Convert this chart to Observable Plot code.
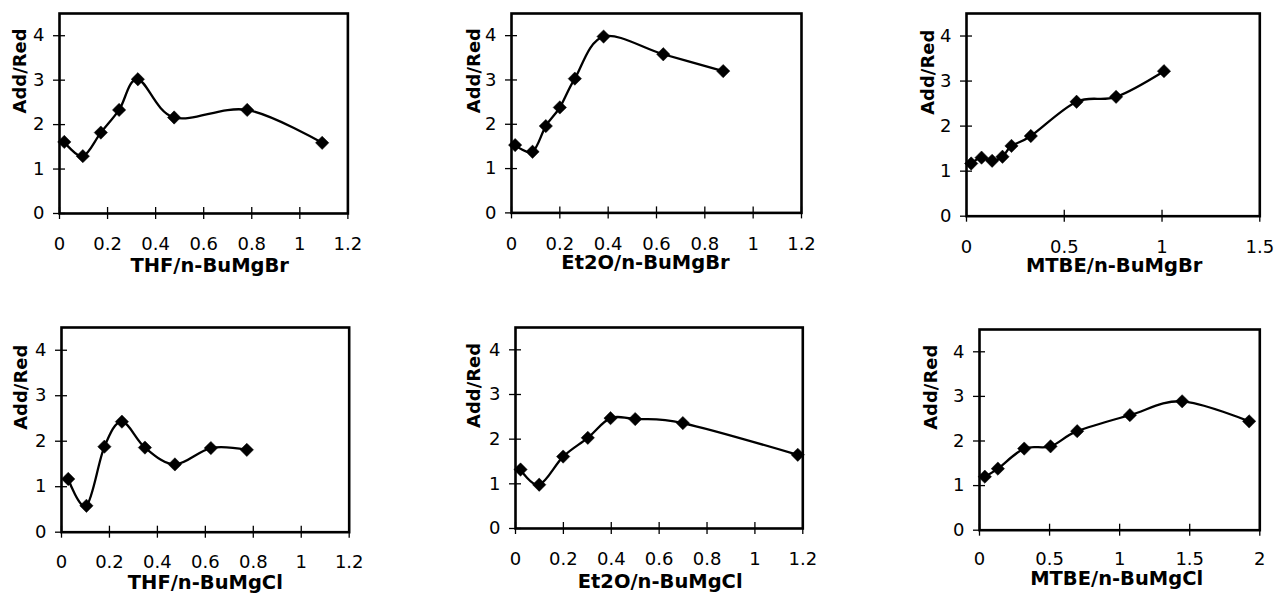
<!DOCTYPE html>
<html>
<head>
<meta charset="utf-8">
<script src="https://cdn.jsdelivr.net/npm/d3@7"></script>
<script src="https://cdn.jsdelivr.net/npm/@observablehq/plot@0.6"></script>
<style>
  html, body { margin: 0; padding: 0; background: #fff; overflow: hidden; }
  #root { position: relative; width: 1277px; height: 593px; background: #fff; }
  #root svg { position: absolute; overflow: visible; }
</style>
</head>
<body>
<div id="root"></div>
<script>
// ---- data ----
const yTicks = [0, 1, 2, 3, 4];
const xTicks12 = [0, 0.2, 0.4, 0.6, 0.8, 1, 1.2];
const xTicks15 = [0, 0.5, 1, 1.5];
const xTicks2 = [0, 0.5, 1, 1.5, 2];
const yLabel = "Add/Red";

const thfBrX = [0.02, 0.097, 0.172, 0.248, 0.326, 0.477, 0.781, 1.093];
const thfBrY = [1.61, 1.29, 1.82, 2.33, 3.02, 2.16, 2.33, 1.59];
const et2oBrX = [0.015, 0.087, 0.142, 0.2, 0.262, 0.381, 0.628, 0.876];
const et2oBrY = [1.53, 1.38, 1.96, 2.38, 3.03, 3.98, 3.58, 3.20];
const mtbeBrX = [0.024, 0.077, 0.131, 0.184, 0.23, 0.329, 0.563, 0.765, 1.01];
const mtbeBrY = [1.17, 1.30, 1.23, 1.32, 1.56, 1.78, 2.54, 2.65, 3.22];
const thfClX = [0.028, 0.104, 0.179, 0.252, 0.348, 0.473, 0.623, 0.773];
const thfClY = [1.17, 0.58, 1.88, 2.43, 1.86, 1.49, 1.85, 1.81];
const et2oClX = [0.021, 0.099, 0.199, 0.302, 0.397, 0.5, 0.699, 1.179];
const et2oClY = [1.32, 0.98, 1.61, 2.03, 2.47, 2.45, 2.36, 1.65];
const mtbeClX = [0.038, 0.131, 0.319, 0.507, 0.697, 1.073, 1.446, 1.924];
const mtbeClY = [1.20, 1.38, 1.83, 1.88, 2.22, 2.58, 2.89, 2.44];

const titles = ["THF/n-BuMgBr", "Et2O/n-BuMgBr", "MTBE/n-BuMgBr",
                "THF/n-BuMgCl", "Et2O/n-BuMgCl", "MTBE/n-BuMgCl"];

// ---- layout (plot frame in page pixels) ----
const panels = [
  {xs: thfBrX,  ys: thfBrY,  xMax: 1.2, xt: xTicks12, L: 59.3, R: 347.7, T: 13.3,  B: 213.3, yl: -39,  td: 45, tp: 24, tdx: 6},
  {xs: et2oBrX, ys: et2oBrY, xMax: 1.2, xt: xTicks12, L: 510.7, R: 800.7, T: 13.3, B: 212.7, yl: -37,  td: 42, tp: 24, tdx: -11},
  {xs: mtbeBrX, ys: mtbeBrY, xMax: 1.5, xt: xTicks15, L: 966, R: 1259.3, T: 13.3,  B: 216,   yl: -38.5, td: 42, tp: 24, tdx: 1},
  {xs: thfClX,  ys: thfClY,  xMax: 1.2, xt: xTicks12, L: 61, R: 348.7, T: 327.3,   B: 532,   yl: -40,  td: 43, tp: 23, tdx: 0},
  {xs: et2oClX, ys: et2oClY, xMax: 1.2, xt: xTicks12, L: 515, R: 802.3, T: 326.7,  B: 527.7, yl: -41,  td: 46, tp: 24, tdx: 1},
  {xs: mtbeClX, ys: mtbeClY, xMax: 2,   xt: xTicks2,  L: 979, R: 1259.3, T: 329.3, B: 530,   yl: -48.5, td: 41, tp: 22, tdx: -3}
];

const ML = 75, MT = 12, MR = 15, MB = 75;
const FS = 18;
const root = document.getElementById("root");

panels.forEach((p, i) => {
  const data = p.xs.map((x, k) => ({x, y: p.ys[k]}));
  const fmt = d => String(d);
  const chart = Plot.plot({
    width: (p.R - p.L) + ML + MR,
    height: (p.B - p.T) + MT + MB,
    marginLeft: ML, marginRight: MR, marginTop: MT, marginBottom: MB,
    style: {fontFamily: "DejaVu Sans", fontSize: "18px", color: "#000", background: "transparent"},
    x: {domain: [0, p.xMax]},
    y: {domain: [0, 4.5]},
    marks: [
      Plot.axisX({ticks: p.xt, tickSize: 6, tickFormat: () => "", label: null, strokeWidth: 1.3}),
      Plot.axisX({ticks: p.xt, tickSize: -6, tickFormat: () => "", label: null, strokeWidth: 1.3}),
      Plot.axisY({ticks: yTicks, tickSize: 6, tickFormat: () => "", label: null, strokeWidth: 1.3}),
      Plot.axisY({ticks: yTicks, tickSize: -6, tickFormat: () => "", label: null, strokeWidth: 1.3}),
      Plot.text(p.xt, {x: d => d, text: fmt, frameAnchor: "bottom", dy: p.tp, lineAnchor: "top",
        fontSize: FS, fontFamily: "DejaVu Sans", fill: "#000"}),
      Plot.text(yTicks, {y: d => d, text: fmt, frameAnchor: "left", dx: -15, textAnchor: "end",
        fontSize: FS, fontFamily: "DejaVu Sans", fill: "#000"}),
      Plot.frame({stroke: "#000", strokeWidth: 2.6}),
      Plot.line(data, {x: "x", y: "y", curve: "cardinal", stroke: "#000", strokeWidth: 2.3}),
      Plot.dot(data, {x: "x", y: "y", symbol: "diamond2", r: 6, fill: "#000", stroke: "#000", strokeWidth: 0.5}),
      Plot.text([yLabel], {text: d => d, frameAnchor: "left", dx: p.yl, rotate: -90,
        fontWeight: "bold", fontSize: 18, fontFamily: "DejaVu Sans", fill: "#000"}),
      Plot.text([titles[i]], {text: d => d, frameAnchor: "bottom", dy: p.td, dx: p.tdx, lineAnchor: "top",
        fontWeight: "bold", fontSize: 19.5, fontFamily: "DejaVu Sans", fill: "#000"})
    ]
  });
  chart.style.left = (p.L - ML) + "px";
  chart.style.top = (p.T - MT) + "px";
  root.appendChild(chart);
});
</script>
</body>
</html>
